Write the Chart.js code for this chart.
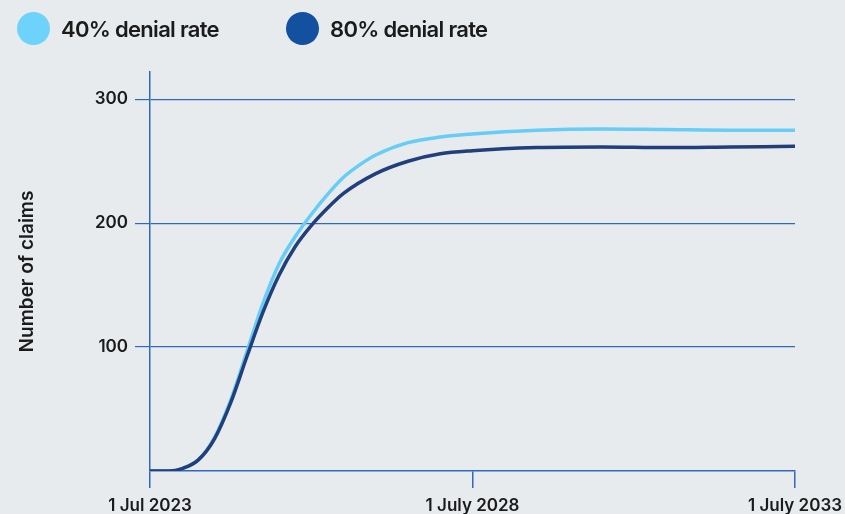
<!DOCTYPE html>
<html>
<head>
<meta charset="utf-8">
<script src="https://cdn.jsdelivr.net/npm/chart.js@4.4.0/dist/chart.umd.min.js"></script>
<style>
  html, body { margin: 0; padding: 0; background: #e8ebee; }
  #wrap { position: relative; width: 845px; height: 514px; overflow: hidden; }
  #chart { position: absolute; left: 0; top: 0; }
  .legend { position: absolute; top: 12px; display: flex; align-items: center;
    font-family: Inter, 'Noto Sans', sans-serif; font-weight: 600; font-size: 22px;
    letter-spacing: -0.7px; color: #1b1b1b; }
  .dot { width: 33px; height: 33px; border-radius: 50%; margin-right: 11px; }
</style>
</head>
<body>
<div id="wrap">
  <canvas id="chart" width="845" height="514"></canvas>
  <div class="legend" style="left:17px"><span class="dot" style="background:#6dd3fa"></span>40% denial rate</div>
  <div class="legend" style="left:286px"><span class="dot" style="background:#1350a0"></span>80% denial rate</div>
</div>
<script>
// years since 1 Jul 2023
const years40 = [0, 0.3, 0.5, 0.75, 1, 1.25, 1.5, 1.75, 2, 2.25, 2.5, 2.75, 3, 3.25, 3.5, 4, 4.5, 5, 6, 7, 8, 9, 10];
const claims40 = [0, 0, 2, 9, 27, 57, 96, 135, 167, 189, 207, 223, 237, 247, 255, 265, 269.5, 272, 275, 276, 275.5, 275, 275];

const years80 = [0, 0.3, 0.5, 0.75, 1, 1.25, 1.5, 1.75, 2, 2.25, 2.5, 2.75, 3, 3.5, 4, 4.5, 5, 6, 7, 8, 9, 10];
const claims80 = [0, 0, 2, 9, 26, 55, 92, 128, 158, 181, 198, 212, 224, 240, 250, 256, 258.5, 261, 261.5, 261, 261.5, 262];

const yTicks = [100, 200, 300];
const xTicks = [0, 5, 10];
const xTickLabels = ['1 Jul 2023', '1 July 2028', '1 July 2033'];

const blue = '#2e69bd';
const toPts = (xs, ys) => xs.map((x, i) => ({ x: x, y: ys[i] }));

const ctx = document.getElementById('chart').getContext('2d');
const chart = new Chart(ctx, {
  type: 'line',
  data: {
    datasets: [
      {
        label: '40% denial rate',
        data: toPts(years40, claims40),
        borderColor: '#66cdf7',
        borderWidth: 3.5,
        pointRadius: 0,
        cubicInterpolationMode: 'monotone',
        order: 1
      },
      {
        label: '80% denial rate',
        data: toPts(years80, claims80),
        borderColor: '#213f7b',
        borderWidth: 3.5,
        pointRadius: 0,
        cubicInterpolationMode: 'monotone',
        order: 0
      }
    ]
  },
  options: {
    responsive: false,
    animation: false,
    layout: { padding: { left: 0, right: 50, top: 72, bottom: 0 } },
    plugins: {
      legend: { display: false },
      tooltip: { enabled: false }
    },
    scales: {
      x: {
        type: 'linear',
        min: 0,
        max: 10,
        afterBuildTicks: (s) => { s.ticks = xTicks.map(v => ({ value: v })); },
        afterFit: (s) => { s.height = 43; s.paddingLeft = 0; s.paddingRight = 0; },
        border: { color: blue, width: 1.5 },
        grid: { drawOnChartArea: false, drawTicks: true, tickLength: 17, color: blue, lineWidth: 1.5 },
        ticks: {
          padding: 8,
          maxRotation: 0,
          color: '#1b1b1b',
          font: { family: 'Inter', size: 17, weight: '600' },
          callback: (v) => xTickLabels[xTicks.indexOf(v)]
        }
      },
      y: {
        min: 0,
        max: 322,
        afterBuildTicks: (s) => { s.ticks = yTicks.map(v => ({ value: v })); },
        afterFit: (s) => { s.width = 150; },
        border: { color: blue, width: 1.5 },
        grid: { color: blue, lineWidth: 1.2, tickLength: 15 },
        ticks: { padding: 7, color: '#1b1b1b', font: { family: 'Inter', size: 17, weight: '600' } },
        title: {
          display: true,
          text: 'Number of claims',
          color: '#1b1b1b',
          font: { family: 'Inter', size: 19, weight: '600' },
          padding: { top: 16 }
        }
      }
    }
  }
});
</script>
</body>
</html>
